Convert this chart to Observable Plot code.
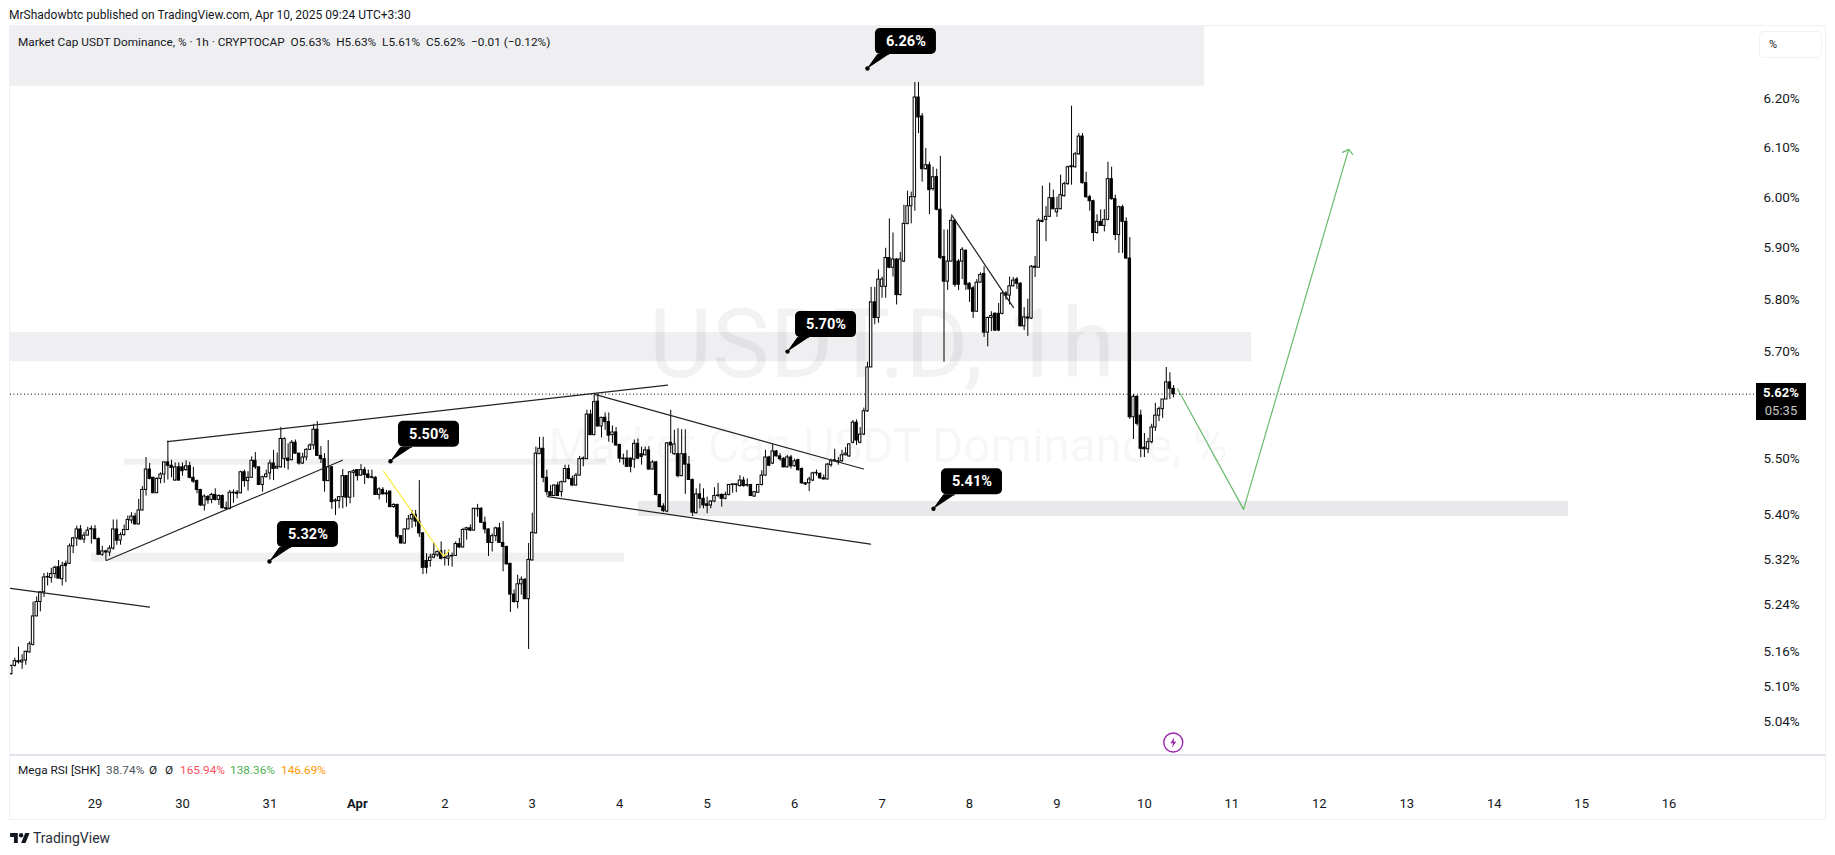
<!DOCTYPE html>
<html><head><meta charset="utf-8">
<script src="https://cdn.jsdelivr.net/npm/d3@7"></script>
<script src="https://cdn.jsdelivr.net/npm/@observablehq/plot@0.6"></script>
<style>
html,body{margin:0;padding:0;background:#fff;width:1835px;height:855px;overflow:hidden;font-family:Roboto,"Liberation Sans",sans-serif;color:#131722}
#top{position:absolute;left:9px;top:7px;font-size:12px;line-height:16px;white-space:pre}
#chart{position:absolute;left:0;top:26px;width:1835px;height:793px}
#chart svg{display:block;overflow:visible;background:transparent}
.ov{position:absolute;white-space:pre;font-size:11.8px;line-height:16px}
#frame{position:absolute;left:9px;top:25px;width:1815px;height:793px;border:1.5px solid #f0f1f4;pointer-events:none}
#div{position:absolute;left:10px;top:754px;width:1815px;height:1.5px;background:#e0e3eb}
#pct{position:absolute;left:1759px;top:31px;width:61px;height:25px;border:1px solid #f0f1f4;border-radius:5px;font-size:11px;line-height:25px;padding-left:0;text-indent:9px}
#tag{position:absolute;left:1756px;top:383px;width:50px;height:37px;background:#000;color:#fff;font-size:13px;text-align:center;line-height:18px;padding-top:1px;box-sizing:border-box}
#tag b{display:block;font-weight:700}
#tag span{color:#c4c4c4;display:block}
#logo{position:absolute;left:10px;top:832px;width:20px;height:11px}
#tv{position:absolute;left:33px;top:829px;font-size:14px;line-height:18px;color:#2a2e39}
</style></head><body>
<div id="top">MrShadowbtc published on TradingView.com, Apr 10, 2025 09:24 UTC+3:30</div>
<div id="chart"></div>
<div id="frame"></div><div id="div"></div>
<div class="ov" style="left:18px;top:34px">Market Cap USDT Dominance, % · 1h · CRYPTOCAP  O5.63%  H5.63%  L5.61%  C5.62%  −0.01 (−0.12%)</div>
<div class="ov" style="left:18px;top:762px">Mega RSI [SHK]</div>
<div class="ov" style="left:106px;top:762px;color:#50535e">38.74%</div>
<div class="ov" style="left:149px;top:762px">Ø</div>
<div class="ov" style="left:165px;top:762px">Ø</div>
<div class="ov" style="left:180px;top:762px;color:#f7525f">165.94%</div>
<div class="ov" style="left:230px;top:762px;color:#4caf50">138.36%</div>
<div class="ov" style="left:281px;top:762px;color:#ff9800">146.69%</div>
<div id="pct">%</div>
<div id="tag"><b>5.62%</b><span>05:35</span></div>
<svg id="logo" viewBox="0 0 36 20"><path fill="#131722" d="M14 20H7V9H0V2h14v18zM28 20h-8l7.5-18h8L28 20z"/><circle fill="#131722" cx="20" cy="6" r="4"/></svg>
<div id="tv">TradingView</div>
<script>
// Hourly candles, first one 2025-03-28 01:00
const opens=[5.121,5.135,5.143,5.141,5.144,5.158,5.171,5.220,5.245,5.262,
5.288,5.287,5.294,5.306,5.285,5.312,5.312,5.343,5.357,5.373,
5.355,5.362,5.373,5.373,5.356,5.328,5.334,5.332,5.339,5.373,
5.353,5.363,5.372,5.389,5.396,5.382,5.407,5.444,5.481,5.466,
5.438,5.464,5.472,5.494,5.488,5.461,5.485,5.485,5.480,5.487,
5.466,5.460,5.444,5.416,5.431,5.426,5.435,5.426,5.433,5.411,
5.410,5.439,5.439,5.438,5.476,5.460,5.466,5.497,5.485,5.453,
5.467,5.474,5.492,5.483,5.485,5.500,5.501,5.498,5.530,5.510,
5.492,5.503,5.517,5.525,5.554,5.506,5.500,5.460,5.485,5.423,
5.424,5.431,5.469,5.430,5.475,5.480,5.470,5.480,5.472,5.467,
5.466,5.435,5.444,5.438,5.441,5.413,5.417,5.361,5.348,5.373,
5.391,5.399,5.387,5.366,5.317,5.317,5.323,5.327,5.334,5.323,
5.321,5.326,5.326,5.347,5.341,5.372,5.375,5.371,5.410,5.410,
5.385,5.373,5.349,5.361,5.375,5.349,5.342,5.312,5.258,5.245,
5.276,5.284,5.250,5.318,5.366,5.509,5.519,5.466,5.440,5.433,
5.452,5.440,5.458,5.482,5.464,5.452,5.470,5.500,5.500,5.582,
5.544,5.606,5.560,5.576,5.568,5.544,5.549,5.526,5.501,5.501,
5.501,5.499,5.528,5.509,5.507,5.516,5.481,5.494,5.435,5.414,
5.405,5.530,5.509,5.509,5.469,5.509,5.490,5.462,5.402,5.436,
5.428,5.418,5.416,5.423,5.433,5.435,5.428,5.435,5.453,5.454,
5.451,5.461,5.453,5.453,5.432,5.439,5.453,5.470,5.503,5.492,
5.514,5.505,5.500,5.485,5.503,5.487,5.498,5.482,5.456,5.456,
5.461,5.474,5.473,5.465,5.463,5.489,5.496,5.496,5.496,5.507,
5.505,5.530,5.567,5.530,5.545,5.588,5.670,5.794,5.764,5.824,
5.824,5.880,5.861,5.877,5.808,5.873,5.947,5.982,6.000,6.202,
6.163,6.056,6.064,6.016,6.040,5.975,5.882,5.834,5.873,5.953,
5.873,5.873,5.894,5.830,5.821,5.776,5.832,5.849,5.736,5.764,
5.772,5.772,5.772,5.811,5.807,5.825,5.838,5.830,5.748,5.765,
5.763,5.863,5.861,5.953,5.955,5.961,5.998,5.970,5.976,6.002,
6.026,6.060,6.060,6.086,6.122,6.028,6.000,5.992,5.929,5.951,
5.943,5.955,6.036,5.996,5.925,5.980,5.951,5.879,5.577,5.615,
5.580,5.521,5.518,5.531,5.558,5.580,5.592,5.610,5.642,5.630];
const highs=[5.136,5.148,5.167,5.154,5.160,5.176,5.245,5.254,5.263,5.295,
5.296,5.304,5.308,5.318,5.315,5.317,5.347,5.359,5.379,5.380,
5.368,5.377,5.379,5.380,5.358,5.343,5.336,5.344,5.390,5.390,
5.367,5.381,5.397,5.403,5.402,5.427,5.450,5.503,5.492,5.467,
5.466,5.475,5.495,5.533,5.498,5.493,5.493,5.493,5.497,5.494,
5.485,5.462,5.445,5.435,5.434,5.438,5.446,5.435,5.435,5.422,
5.443,5.444,5.443,5.478,5.480,5.477,5.504,5.512,5.486,5.469,
5.480,5.498,5.516,5.511,5.558,5.539,5.528,5.534,5.535,5.511,
5.511,5.519,5.528,5.564,5.569,5.523,5.510,5.534,5.486,5.428,
5.432,5.481,5.470,5.477,5.481,5.481,5.490,5.485,5.480,5.480,
5.468,5.448,5.448,5.443,5.442,5.419,5.418,5.362,5.374,5.398,
5.407,5.407,5.461,5.367,5.330,5.329,5.349,5.335,5.351,5.336,
5.336,5.331,5.351,5.357,5.375,5.377,5.381,5.411,5.418,5.412,
5.395,5.374,5.365,5.377,5.384,5.387,5.343,5.313,5.266,5.292,
5.289,5.286,5.348,5.402,5.522,5.540,5.540,5.480,5.452,5.453,
5.458,5.460,5.489,5.489,5.469,5.474,5.505,5.504,5.590,5.590,
5.620,5.620,5.577,5.585,5.585,5.561,5.558,5.527,5.509,5.516,
5.502,5.535,5.537,5.522,5.522,5.523,5.497,5.496,5.436,5.419,
5.530,5.590,5.553,5.556,5.554,5.554,5.505,5.464,5.446,5.455,
5.446,5.431,5.425,5.448,5.456,5.437,5.440,5.454,5.455,5.455,
5.470,5.467,5.464,5.454,5.441,5.454,5.479,5.516,5.505,5.527,
5.516,5.510,5.503,5.507,5.507,5.500,5.500,5.484,5.457,5.467,
5.476,5.480,5.475,5.471,5.492,5.500,5.518,5.503,5.516,5.521,
5.528,5.571,5.572,5.558,5.594,5.680,5.823,5.823,5.857,5.843,
5.899,5.957,5.929,5.879,5.891,5.984,6.012,6.010,6.233,6.233,
6.169,6.098,6.070,6.060,6.056,6.082,5.935,5.935,5.961,5.955,
5.877,5.900,5.896,5.832,5.825,5.838,5.851,5.863,5.766,5.776,
5.774,5.792,5.813,5.815,5.843,5.842,5.842,5.832,5.784,5.800,
5.865,5.883,5.957,6.022,5.981,6.028,6.014,6.000,6.044,6.030,
6.062,6.184,6.090,6.128,6.128,6.050,6.004,5.994,5.965,5.975,
5.975,6.070,6.060,6.004,5.982,5.984,5.959,5.920,5.619,5.617,
5.590,5.547,5.538,5.564,5.603,5.596,5.610,5.670,5.660,5.636];
const lows=[5.119,5.133,5.138,5.129,5.136,5.157,5.169,5.220,5.228,5.253,
5.273,5.278,5.286,5.285,5.273,5.279,5.311,5.330,5.343,5.354,
5.348,5.362,5.347,5.354,5.327,5.325,5.317,5.325,5.336,5.345,
5.345,5.361,5.371,5.383,5.381,5.381,5.406,5.433,5.462,5.438,
5.438,5.455,5.456,5.462,5.466,5.460,5.460,5.469,5.478,5.464,
5.456,5.437,5.414,5.406,5.418,5.419,5.424,5.416,5.410,5.408,
5.408,5.420,5.428,5.437,5.449,5.442,5.466,5.481,5.453,5.440,
5.466,5.462,5.461,5.481,5.484,5.483,5.480,5.497,5.509,5.489,
5.490,5.497,5.516,5.517,5.505,5.492,5.440,5.459,5.409,5.398,
5.410,5.410,5.413,5.419,5.430,5.460,5.469,5.454,5.464,5.464,
5.434,5.426,5.435,5.420,5.412,5.411,5.356,5.347,5.347,5.373,
5.375,5.377,5.359,5.293,5.294,5.306,5.321,5.324,5.319,5.308,
5.308,5.306,5.325,5.339,5.340,5.354,5.369,5.370,5.395,5.384,
5.365,5.325,5.333,5.351,5.348,5.298,5.310,5.227,5.243,5.233,
5.257,5.249,5.163,5.317,5.365,5.509,5.457,5.433,5.432,5.432,
5.432,5.431,5.457,5.462,5.450,5.451,5.469,5.486,5.499,5.543,
5.543,5.559,5.539,5.553,5.531,5.529,5.524,5.493,5.489,5.485,
5.475,5.483,5.499,5.489,5.506,5.480,5.480,5.433,5.412,5.403,
5.403,5.510,5.507,5.466,5.468,5.436,5.461,5.396,5.401,5.410,
5.410,5.401,5.410,5.421,5.430,5.413,5.426,5.433,5.438,5.439,
5.449,5.449,5.449,5.432,5.431,5.438,5.451,5.469,5.487,5.490,
5.504,5.496,5.484,5.484,5.482,5.485,5.478,5.454,5.452,5.441,
5.459,5.469,5.463,5.462,5.462,5.485,5.494,5.489,5.494,5.506,
5.503,5.528,5.525,5.528,5.543,5.586,5.671,5.751,5.754,5.802,
5.802,5.859,5.843,5.789,5.806,5.871,5.945,5.947,5.972,6.128,
6.030,6.054,5.965,6.012,5.973,5.877,5.680,5.817,5.872,5.823,
5.817,5.838,5.817,5.794,5.763,5.775,5.831,5.727,5.709,5.738,
5.738,5.738,5.770,5.798,5.789,5.824,5.819,5.747,5.740,5.729,
5.761,5.842,5.861,5.949,5.912,5.960,5.975,5.960,5.975,6.000,
6.024,6.024,6.058,6.084,6.026,5.998,5.972,5.912,5.927,5.943,
5.931,5.953,5.994,5.914,5.889,5.889,5.877,5.573,5.536,5.561,
5.503,5.503,5.510,5.528,5.551,5.569,5.575,5.610,5.610,5.613];
const closes=[5.135,5.143,5.141,5.144,5.159,5.172,5.220,5.245,5.262,5.288,
5.289,5.294,5.305,5.286,5.308,5.308,5.343,5.357,5.373,5.355,
5.362,5.371,5.374,5.356,5.328,5.334,5.332,5.339,5.373,5.353,
5.363,5.372,5.390,5.396,5.382,5.407,5.444,5.481,5.464,5.438,
5.464,5.472,5.494,5.488,5.484,5.485,5.461,5.478,5.487,5.466,
5.459,5.444,5.416,5.432,5.425,5.435,5.426,5.433,5.411,5.410,
5.439,5.438,5.437,5.476,5.460,5.466,5.497,5.485,5.453,5.467,
5.472,5.492,5.482,5.486,5.537,5.537,5.497,5.530,5.510,5.492,
5.503,5.517,5.525,5.554,5.506,5.500,5.460,5.485,5.422,5.425,
5.431,5.469,5.430,5.476,5.478,5.469,5.480,5.471,5.466,5.466,
5.435,5.445,5.436,5.436,5.413,5.417,5.360,5.348,5.373,5.391,
5.399,5.387,5.366,5.305,5.305,5.323,5.328,5.333,5.321,5.322,
5.325,5.325,5.347,5.341,5.372,5.375,5.371,5.410,5.409,5.385,
5.373,5.349,5.361,5.375,5.349,5.342,5.311,5.258,5.245,5.276,
5.284,5.250,5.319,5.367,5.510,5.519,5.466,5.440,5.433,5.452,
5.433,5.458,5.482,5.464,5.452,5.470,5.500,5.501,5.582,5.544,
5.605,5.560,5.576,5.568,5.543,5.549,5.525,5.501,5.500,5.486,
5.486,5.528,5.501,5.504,5.516,5.481,5.494,5.435,5.413,5.406,
5.529,5.525,5.527,5.469,5.509,5.490,5.462,5.403,5.436,5.428,
5.416,5.415,5.423,5.433,5.434,5.428,5.435,5.453,5.454,5.453,
5.461,5.451,5.452,5.433,5.440,5.453,5.470,5.503,5.488,5.514,
5.505,5.500,5.485,5.503,5.487,5.496,5.480,5.456,5.454,5.463,
5.474,5.475,5.465,5.463,5.490,5.496,5.498,5.494,5.507,5.510,
5.527,5.567,5.534,5.545,5.588,5.670,5.794,5.764,5.838,5.838,
5.880,5.861,5.877,5.808,5.877,5.947,5.982,6.000,6.202,6.161,
6.056,6.064,6.014,6.040,5.975,5.880,5.834,5.873,5.953,5.828,
5.828,5.896,5.828,5.819,5.776,5.832,5.847,5.736,5.764,5.768,
5.740,5.740,5.811,5.807,5.825,5.836,5.830,5.748,5.765,5.763,
5.863,5.861,5.953,5.951,5.961,5.998,5.976,5.976,6.004,6.026,
6.060,6.062,6.086,6.122,6.028,6.000,5.992,5.929,5.951,5.943,
5.955,6.036,5.996,5.925,5.980,5.951,5.879,5.577,5.615,5.565,
5.519,5.518,5.531,5.558,5.580,5.592,5.610,5.642,5.630,5.620];

const lastClose=5.62;
const dayTicks=d3.range(0,19).filter(d=>d!==3);
const dayLabels=["29","30","31","Apr","2","3","4","5","6","7","8","9","10","11","12","13","14","15","16"];
const priceTicks=[5.04,5.10,5.16,5.24,5.32,5.40,5.50,5.70,5.80,5.90,6.00,6.10,6.20];

// Zones: day offsets from Mar 29 and price limits
const zones=[
 {d1:-0.966,d2:12.687,p1:6.225,p2:6.35,fill:"#efeff1"},
 {d1:-0.966,d2:13.224,p1:5.681,p2:5.736,fill:"#efeff1"},
 {d1:0.337,d2:5.849,p1:5.489,p2:5.500,fill:"#f0f0f2"},
 {d1:-0.04,d2:6.055,p1:5.315,p2:5.331,fill:"#f0f0f2"},
 {d1:6.215,d2:16.85,p1:5.396,p2:5.423,fill:"#e9e9eb"}
];
const trendLines=[
 {d:[-0.966,0.623],p:[5.269,5.236],c:"#222"},
 {d:[0.829,6.547],p:[5.532,5.637],c:"#222"},
 {d:[0.131,2.830],p:[5.318,5.498],c:"#222"},
 {d:[5.723,8.788],p:[5.619,5.482],c:"#222"},
 {d:[5.174,8.868],p:[5.432,5.347],c:"#222"},
 {d:[9.794,10.503],p:[5.965,5.784],c:"#222"},
 {d:[3.299,3.985,4.054],p:[5.478,5.325,5.336],c:"#ffeb3b"},
 {d:[12.379,13.134,14.335],p:[5.630,5.409,6.096],c:"#66bb6a"},
 {d:[14.266,14.335,14.381],p:[6.090,6.096,6.086],c:"#66bb6a"}
];
const callouts=[
 {d:8.833,p:6.262,label:"6.26%"},
 {d:7.919,p:5.700,label:"5.70%"},
 {d:3.379,p:5.496,label:"5.50%"},
 {d:1.995,p:5.316,label:"5.32%"},
 {d:9.588,p:5.410,label:"5.41%"}
];
const marks1={d:[9.0,9.07],p:[5.710,5.522],text:["USDT.D, 1h","Market Cap USDT Dominance, %"],size:[97,47.5]};
const newsIcon={d:12.33,p:5.006};

const DAY=864e5, day0=Date.UTC(2025,2,29);
const D=d=>new Date(day0+d*DAY);
const t0=Date.UTC(2025,2,28,1);
const candles=opens.map((o,i)=>({t:t0+i*36e5,o,h:highs[i],l:lows[i],c:closes[i]}));
const up=candles.filter(d=>d.c>=d.o), down=candles.filter(d=>d.c<d.o);
const pxD=1/87.45, pxL=1/3012;
const up_=(p,px)=>p*Math.exp(px*pxL);
const box=callouts.map(c=>({x1:D(c.d+8*pxD),x2:D(c.d+69*pxD),y1:up_(c.p,14),y2:up_(c.p,40)}));
const tails=callouts.flatMap((c,i)=>[[0,0],[10,14],[21,14]].map(([a,b])=>({i,x:D(c.d+a*pxD),y:up_(c.p,b)})));
const bolt={draw(ctx,size){const s=Math.sqrt(size)/2;const P=[[.2,-1],[-.55,.15],[-.05,.15],[-.2,1],[.55,-.2],[.05,-.2]];P.forEach(([x,y],i)=>i?ctx.lineTo(x*s,y*s):ctx.moveTo(x*s,y*s));ctx.closePath();}};

const lineRows=trendLines.flatMap((l,k)=>l.d.map((d,i)=>({k,x:D(d),y:l.p[i],c:l.c})));
const fontF="Roboto, 'Liberation Sans', sans-serif";

const plot=Plot.plot({
 width:1835,height:793,marginLeft:10,marginRight:75,marginTop:0,marginBottom:65,
 style:{background:"transparent",fontFamily:fontF,color:"#131722"},
 x:{type:"utc",domain:[D(-0.9663),D(19.045)]},
 y:{type:"log",domain:[4.986,6.35]},
 marks:[
  Plot.rect(zones,{x1:d=>D(d.d1),x2:d=>D(d.d2),y1:"p1",y2:"p2",fill:"fill"}),
  Plot.text([0,1],{x:i=>D(marks1.d[i]),y:i=>marks1.p[i],text:i=>marks1.text[i],fontSize:i=>marks1.size[i],fill:"#000",fillOpacity:0.05,fontFamily:fontF,textAnchor:"middle"}),
  Plot.ruleY([lastClose],{stroke:"#000",strokeWidth:1,strokeDasharray:"1,2.5"}),
  Plot.ruleX(candles,{x:d=>new Date(d.t),y1:"l",y2:"h",stroke:"#000",strokeWidth:1}),
  Plot.rect(up,{x1:d=>new Date(d.t-20*6e4),x2:d=>new Date(d.t+20*6e4),y1:"o",y2:"c",fill:"#fff",stroke:"#000",strokeWidth:1}),
  Plot.rect(down,{x1:d=>new Date(d.t-20*6e4),x2:d=>new Date(d.t+20*6e4),y1:"o",y2:"c",fill:"#000",stroke:"#000",strokeWidth:1}),
  Plot.line(lineRows,{x:"x",y:"y",z:"k",stroke:"c",strokeWidth:1.2,curve:"linear"}),
  Plot.line(tails,{x:"x",y:"y",z:"i",fill:"#000",stroke:"#000",strokeWidth:1}),
  Plot.rect(box,{x1:"x1",x2:"x2",y1:"y1",y2:"y2",fill:"#000",rx:5}),
  Plot.dot(callouts,{x:d=>D(d.d),y:"p",r:2.2,fill:"#000"}),
  Plot.text(callouts,{x:d=>D(d.d+38.5*pxD),y:d=>up_(d.p,27),text:"label",fill:"#fff",fontWeight:"bold",fontSize:14.5,fontFamily:fontF}),
  Plot.dot([newsIcon],{x:d=>D(d.d),y:"p",r:9.5,stroke:"#9c27b0",strokeWidth:1.4,fill:"#fff"}),
  Plot.dot([newsIcon],{x:d=>D(d.d),y:"p",r:6,symbol:bolt,fill:"#9c27b0"}),
  Plot.axisY(priceTicks,{anchor:"right",tickSize:0,tickPadding:3,tickFormat:d=>d.toFixed(2)+"%",fontSize:13.5,label:null,fontFamily:fontF}),
  Plot.axisX(dayTicks.map(D),{anchor:"bottom",tickSize:0,tickPadding:44,tickFormat:d=>dayLabels[Math.round((d-day0)/DAY)],fontSize:13,label:null,fontFamily:fontF}),
  Plot.axisX([D(3)],{anchor:"bottom",tickSize:0,tickPadding:44,tickFormat:()=>"Apr",fontSize:13,fontWeight:"bold",label:null,fontFamily:fontF})
 ]
});
document.getElementById("chart").appendChild(plot);
</script>
</body></html>
